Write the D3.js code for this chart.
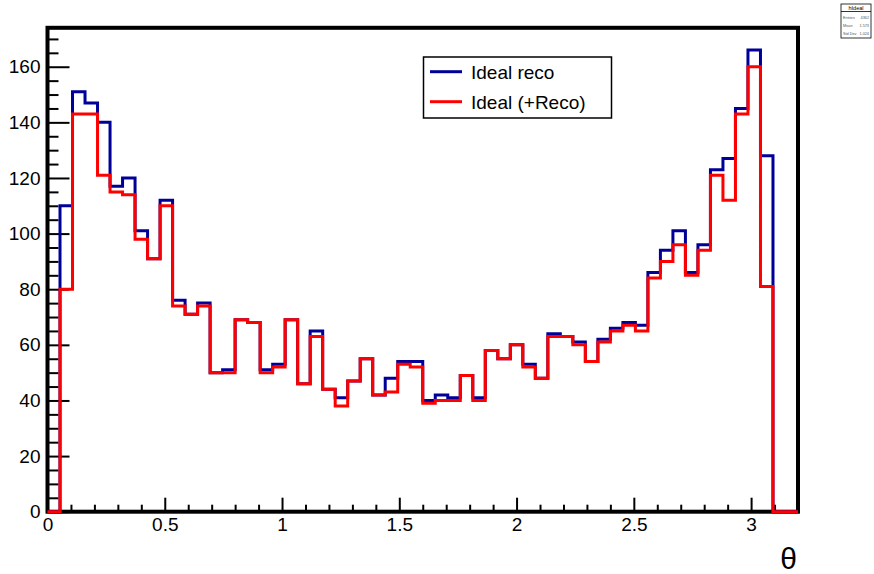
<!DOCTYPE html>
<html><head><meta charset="utf-8">
<script src="https://cdn.jsdelivr.net/npm/d3@7"></script>
<style>body{margin:0;background:#fff}svg{display:block}text{font-family:"Liberation Sans",Arial,Helvetica,sans-serif}</style>
</head><body>
<script>
// ---- data ----
const binEdges = [0, 3.2];          // histogram range
const nBins = 60;
const idealReco = [0,110,151,147,140,117,120,101,91,112,76,71,75,50,51,69,68,51,53,69,
  46,65,44,41,47,55,42,48,54,54,40,42,41,49,41,58,55,60,53,48,
  64,63,61,54,62,66,68,67,86,94,101,86,96,123,127,145,166,128,0,0];
const idealPlusReco = [0,80,143,143,121,115,114,98,91,110,74,71,74,50,50,69,68,50,52,69,
  46,63,44,38,47,55,42,43,53,52,39,40,40,49,40,58,55,60,52,48,
  63,63,60,54,61,65,67,65,84,90,96,85,94,121,112,143,160,81,0,0];
const seriesNames = ["Ideal reco", "Ideal (+Reco)"];
const xTicks = [0, 0.5, 1, 1.5, 2, 2.5, 3];
const xTickLabels = ["0", "0.5", "1", "1.5", "2", "2.5", "3"];
const yTicks = [0, 20, 40, 60, 80, 100, 120, 140, 160];
const yTickLabels = ["0", "20", "40", "60", "80", "100", "120", "140", "160"];
const xTitle = "θ";

// ---- layout ----
const W = 874, H = 574;
const L = 47.5, R = 798, T = 27.8, B = 511.7;
const yMax = 174;
const colors = ["#000099", "#ff0000"];

const svg = d3.select("body").append("svg").attr("width", W).attr("height", H);
const x = d3.scaleLinear().domain(binEdges).range([L, R]);
const y = d3.scaleLinear().domain([0, yMax]).range([B, T]);
const bw = (binEdges[1] - binEdges[0]) / nBins;

function stepPath(vals) {
  const p = d3.path();
  vals.forEach((v, i) => {
    const x0 = x(binEdges[0] + i * bw), x1 = x(binEdges[0] + (i + 1) * bw);
    if (i === 0) p.moveTo(x0, y(v)); else p.lineTo(x0, y(v));
    p.lineTo(x1, y(v));
  });
  return p.toString();
}

// axes
const minorY = d3.range(0, yMax + 0.001, 5).filter(v => v % 20 !== 0);
const minorX = d3.range(0, 3.2001, 0.1).map(v => +v.toFixed(2)).filter(v => Math.abs(v / 0.5 - Math.round(v / 0.5)) > 1e-6);

svg.append("g").attr("transform", `translate(${L},0)`)
  .call(d3.axisLeft(y).tickValues(yTicks).tickFormat((d, i) => yTickLabels[i]).tickSizeInner(-22).tickSizeOuter(0).tickPadding(7));
svg.append("g").attr("transform", `translate(${L},0)`)
  .call(d3.axisLeft(y).tickValues(minorY).tickFormat("").tickSizeInner(-11).tickSizeOuter(0));
svg.append("g").attr("transform", `translate(0,${B})`)
  .call(d3.axisBottom(x).tickValues(xTicks).tickFormat((d, i) => xTickLabels[i]).tickSizeInner(-14).tickSizeOuter(0).tickPadding(6));
svg.append("g").attr("transform", `translate(0,${B})`)
  .call(d3.axisBottom(x).tickValues(minorX).tickFormat("").tickSizeInner(-7).tickSizeOuter(0));
svg.selectAll(".domain").remove();
svg.selectAll(".tick line").attr("stroke", "#000").attr("stroke-width", 2);
svg.selectAll(".tick text").attr("font-size", 19).attr("fill", "#000")
  .attr("font-family", "'Liberation Sans',Arial,sans-serif");

// frame
svg.append("rect").attr("x", L).attr("y", T).attr("width", R - L).attr("height", B - T)
  .attr("fill", "none").attr("stroke", "#000").attr("stroke-width", 4);

// histograms (drawn over the frame, as in the original)
[idealReco, idealPlusReco].forEach((vals, k) => {
  svg.append("path").attr("d", stepPath(vals)).attr("fill", "none")
    .attr("stroke", colors[k]).attr("stroke-width", 3).attr("stroke-linejoin", "miter");
});

// x title
svg.append("text").attr("x", 797).attr("y", 569).attr("text-anchor", "end")
  .attr("font-family", "'Liberation Serif','DejaVu Serif',serif").attr("font-size", 30).text(xTitle);

// legend
const lg = svg.append("g");
lg.append("rect").attr("x", 423.5).attr("y", 57).attr("width", 188).attr("height", 61)
  .attr("fill", "#fff").attr("stroke", "#000").attr("stroke-width", 1.5);
seriesNames.forEach((n, k) => {
  const yy = 71.7 + k * 30;
  lg.append("line").attr("x1", 430).attr("x2", 462).attr("y1", yy).attr("y2", yy)
    .attr("stroke", colors[k]).attr("stroke-width", 3);
  lg.append("text").attr("x", 471).attr("y", yy).attr("dy", "0.36em").attr("font-size", 19).text(n);
});

// stats box (tiny)
const centers = idealReco.map((_, i) => binEdges[0] + (i + 0.5) * bw);
const N = d3.sum(idealReco);
const mean = d3.sum(idealReco.map((v, i) => v * centers[i])) / N;
const sd = Math.sqrt(d3.sum(idealReco.map((v, i) => v * (centers[i] - mean) ** 2)) / N);
const sb = svg.append("g").attr("transform", "translate(841,4)");
sb.append("rect").attr("width", 30).attr("height", 34).attr("fill", "#fff").attr("stroke", "#000").attr("stroke-width", 0.8);
sb.append("line").attr("x1", 0).attr("x2", 30).attr("y1", 7.5).attr("y2", 7.5).attr("stroke", "#000").attr("stroke-width", 0.8);
sb.append("text").attr("x", 15).attr("y", 6).attr("text-anchor", "middle").attr("font-size", 5.5).text("hIdeal");
[["Entries", d3.format("d")(N)], ["Mean", mean.toFixed(3)], ["Std Dev", sd.toFixed(3)]].forEach((r, i) => {
  sb.append("text").attr("x", 2).attr("y", 15 + i * 8).attr("font-size", 3.8).attr("fill", "#555").text(r[0]);
  sb.append("text").attr("x", 28).attr("y", 15 + i * 8).attr("text-anchor", "end").attr("font-size", 3.8).attr("fill", "#555").text(r[1]);
});
</script>
</body></html>
